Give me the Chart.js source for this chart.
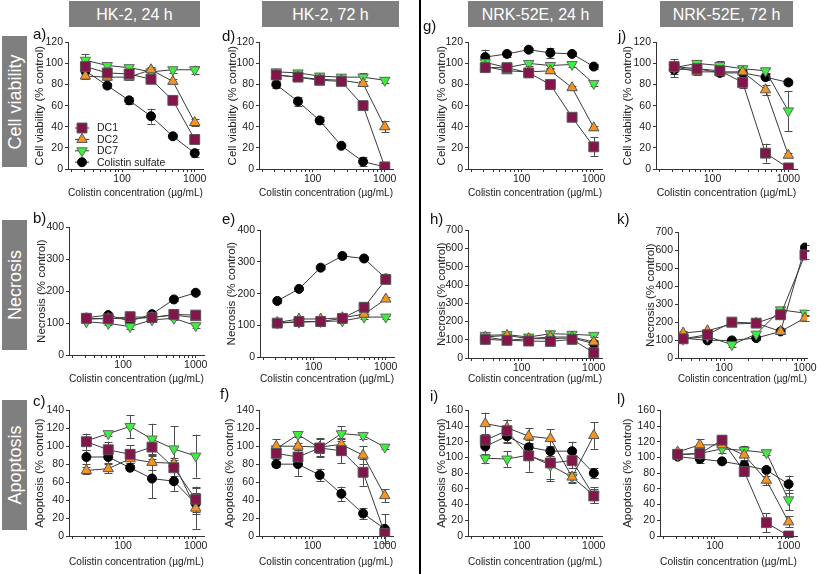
<!DOCTYPE html>
<html>
<head>
<meta charset="utf-8">
<script src="https://cdn.jsdelivr.net/npm/chart.js@4.4.0/dist/chart.umd.min.js"></script>
<style>
  html, body { margin: 0; padding: 0; background: #fff; }
  body { width: 817px; height: 574px; position: relative; overflow: hidden;
         font-family: Arial, "Liberation Sans", sans-serif; }
  .colhead { position: absolute; top: 1px; height: 26px; background: #7f7f7f; color: #fff;
             font-size: 16px; line-height: 27px; text-align: center; white-space: nowrap; }
  .rowhead { position: absolute; left: 2px; width: 25px; background: #7f7f7f; }
  .rowhead span { position: absolute; left: 50%; top: 50%; color: #fff; font-size: 18px;
                  white-space: nowrap; transform: translate(-50%, -50%) rotate(-90deg); }
  .letter { position: absolute; font-size: 15px; line-height: 15px; color: #111; }
  .divider { position: absolute; left: 419px; top: 0; width: 2px; height: 574px; background: #000; }
</style>
</head>
<body>
<div class="colhead" style="left:69px;width:131px">HK-2, 24 h</div>
<div class="colhead" style="left:262px;width:137px">HK-2, 72 h</div>
<div class="colhead" style="left:468px;width:135px">NRK-52E, 24 h</div>
<div class="colhead" style="left:660px;width:133px">NRK-52E, 72 h</div>
<div class="rowhead" style="top:36px;height:131px"><span>Cell viability</span></div>
<div class="rowhead" style="top:220px;height:130px"><span>Necrosis</span></div>
<div class="rowhead" style="top:400px;height:130px"><span>Apoptosis</span></div>
<div class="divider"></div>

<script>
// x values (µg/mL) and axis ticks
const concentrations = [31.25, 62.5, 125, 250, 500, 1000];
const seriesNames = ['DC1', 'DC2', 'DC7', 'Colistin sulfate'];
const xTickValues = [20, 30, 40, 50, 60, 70, 80, 90, 100, 200, 300, 400, 500, 600, 700, 800, 900, 1000];
const xLabelled = [100, 1000];

// each table: rows = DC1, DC2, DC7, Colistin sulfate ; columns = concentrations
// a) cell viability, HK-2 24 h
const viabHK24 = [[97, 91, 90, 85, 65, 28], [88, 87, 87, 94, 83, 44], [103, 98, 96, 92, 94, 94], [93, 79, 65, 50, 31, 15]];
const viabHK24Err = [[4, 3, 4, 2, 2, 2], [3, 3, 3, 3, 2, 3], [6, 2, 2, 2, 3, 4], [3, 2, 3, 7, 2, 4]];
// d) cell viability, HK-2 72 h
const viabHK72 = [[89, 87, 84, 83, 60, 2], [89, 87, 85, 84, 81, 40], [92, 91, 88, 87, 87, 84], [80, 64, 46, 22, 7, 2]];
const viabHK72Err = [[3, 3, 2, 2, 2, 1], [3, 2, 2, 2, 2, 5], [3, 2, 2, 2, 4, 3], [3, 4, 3, 1, 4, 1]];
// g) cell viability, NRK-52E 24 h
const viabNRK24 = [[96, 96, 91, 80, 49, 21], [97, 93, 92, 93, 77, 39], [101, 96, 100, 98, 99, 81], [106, 109, 113, 110, 109, 97]];
const viabNRK24Err = [[3, 3, 4, 2, 2, 9], [2, 2, 2, 2, 2, 2], [2, 2, 2, 2, 2, 2], [7, 3, 2, 5, 2, 2]];
// j) cell viability, NRK-52E 72 h
const viabNRK72 = [[97, 95, 93, 82, 15, 1], [97, 92, 92, 92, 75, 13], [96, 100, 98, 95, 93, 55], [94, 95, 91, 91, 87, 82]];
const viabNRK72Err = [[7, 4, 3, 5, 9, 1], [4, 3, 3, 3, 5, 2], [4, 3, 4, 3, 2, 19], [7, 5, 3, 3, 3, 2]];

// b) necrosis, HK-2 24 h
const necHK24 = [[115, 113, 120, 117, 127, 125], [112, 115, 113, 118, 125, 117], [104, 99, 89, 110, 115, 92], [117, 125, 106, 128, 174, 195]];
const necHK24Err = [[5, 5, 6, 5, 6, 6], [5, 5, 5, 5, 5, 5], [5, 5, 6, 5, 5, 6], [5, 5, 5, 6, 5, 5]];
// e) necrosis, HK-2 72 h
const necHK72 = [[107, 112, 112, 122, 157, 245], [109, 120, 120, 124, 135, 183], [107, 110, 112, 114, 126, 126], [177, 215, 282, 319, 311, 248]];
const necHK72Err = [[5, 6, 5, 6, 6, 6], [5, 6, 6, 6, 6, 6], [5, 5, 5, 6, 5, 5], [5, 5, 5, 5, 5, 6]];
// h) necrosis, NRK-52E 24 h
const necNRK24 = [[102, 97, 93, 91, 102, 29], [115, 124, 106, 115, 115, 88], [124, 128, 115, 133, 130, 124], [115, 97, 106, 106, 110, 79]];
const necNRK24Err = [[12, 10, 10, 12, 12, 10], [10, 10, 10, 10, 10, 12], [10, 10, 10, 10, 10, 10], [12, 10, 10, 12, 10, 15]];
// k) necrosis, NRK-52E 72 h
const necNRK72 = [[107, 130, 200, 194, 241, 574], [139, 152, 189, 194, 148, 222], [105, 120, 74, 133, 268, 250], [111, 98, 98, 111, 148, 615]];
const necNRK72Err = [[12, 15, 15, 12, 15, 20], [10, 12, 12, 12, 12, 15], [10, 12, 12, 15, 15, 15], [10, 10, 10, 10, 12, 15]];

// c) apoptosis, HK-2 24 h
const apoHK24 = [[105, 96, 91, 99, 76, 41], [73, 75, 86, 82, 81, 31], [106, 114, 122, 108, 97, 89], [88, 88, 76, 64, 61, 36]];
const apoHK24Err = [[9, 9, 10, 10, 9, 14], [4, 5, 5, 8, 6, 23], [4, 3, 13, 17, 25, 24], [8, 7, 3, 22, 11, 12]];
// f) apoptosis, HK-2 72 h
const apoHK72 = [[92, 88, 98, 95, 71, 3], [100, 100, 99, 102, 90, 45], [97, 113, 98, 114, 112, 99], [80, 80, 68, 47, 25, 8]];
const apoHK72Err = [[6, 8, 10, 14, 15, 3], [8, 4, 10, 6, 10, 7], [3, 3, 6, 8, 4, 2], [3, 13, 7, 8, 6, 16]];
// i) apoptosis, NRK-52E 24 h
const apoNRK24 = [[122, 134, 102, 93, 96, 51], [143, 138, 127, 124, 75, 128], [99, 98, 103, 90, 75, 52], [114, 127, 113, 108, 108, 80]];
const apoNRK24Err = [[8, 14, 20, 20, 10, 9], [14, 10, 10, 12, 6, 17], [6, 10, 5, 20, 7, 10], [15, 8, 6, 6, 12, 6]];
// l) apoptosis, NRK-52E 72 h
const apoNRK72 = [[104, 105, 122, 82, 17, 0], [107, 116, 116, 103, 71, 18], [103, 105, 111, 109, 106, 46], [101, 98, 95, 90, 84, 66]];
const apoNRK72Err = [[4, 8, 6, 6, 12, 1], [4, 7, 4, 6, 6, 7], [3, 4, 5, 6, 3, 13], [3, 5, 2, 5, 3, 11]];

const seriesStyles = [
  { pointStyle: 'rect', radius: 7, rotation: 0, fill: '#82164a', border: '#555' },
  { pointStyle: 'triangle', radius: 6, rotation: 0, fill: '#f7931e', border: '#555' },
  { pointStyle: 'triangle', radius: 6, rotation: 180, fill: '#3cf03c', border: '#666' },
  { pointStyle: 'circle', radius: 4.5, rotation: 0, fill: '#000', border: '#000' }
];

const FONT = 'Arial, "Liberation Sans", sans-serif';
Chart.defaults.font.family = FONT;
Chart.defaults.color = '#1a1a1a';

const TITLE_VIAB = 'Cell viability (% control)';
const TITLE_NEC = 'Necrosis (% control)';
const TITLE_APO = 'Apoptosis (% control)';
const X_TITLE = 'Colistin concentration (µg/mL)';

// layout of each panel (page pixels): plot box l/r/t/b, y-title centre ty, x-title centre xt
const panels = [
  { letter: 'a)', lx: 33, ly: 26, vals: viabHK24, errs: viabHK24Err, yMax: 120, step: 20, yTitle: TITLE_VIAB, l: 68, r: 203, t: 42, b: 169, ty: 40, xt: 193, legend: true },
  { letter: 'd)', lx: 222, ly: 28, vals: viabHK72, errs: viabHK72Err, yMax: 120, step: 20, yTitle: TITLE_VIAB, l: 259, r: 393, t: 42, b: 169, ty: 233, xt: 193 },
  { letter: 'g)', lx: 423, ly: 18, vals: viabNRK24, errs: viabNRK24Err, yMax: 120, step: 20, yTitle: TITLE_VIAB, l: 468, r: 602, t: 42, b: 169, ty: 442, xt: 193 },
  { letter: 'j)', lx: 618, ly: 28, vals: viabNRK72, errs: viabNRK72Err, yMax: 120, step: 20, yTitle: TITLE_VIAB, l: 656, r: 797, t: 42, b: 169, ty: 628, xt: 193 },
  { letter: 'b)', lx: 33, ly: 210, vals: necHK24, errs: necHK24Err, yMax: 400, step: 100, yTitle: TITLE_NEC, l: 69, r: 204, t: 227, b: 355, ty: 42, xt: 379 },
  { letter: 'e)', lx: 222, ly: 211, vals: necHK72, errs: necHK72Err, yMax: 400, step: 100, yTitle: TITLE_NEC, l: 260, r: 394, t: 230, b: 357, ty: 232, xt: 379 },
  { letter: 'h)', lx: 430, ly: 211, vals: necNRK24, errs: necNRK24Err, yMax: 700, step: 100, yTitle: TITLE_NEC, l: 468, r: 602, t: 230, b: 358, ty: 442, xt: 379 },
  { letter: 'k)', lx: 617, ly: 211, vals: necNRK72, errs: necNRK72Err, yMax: 700, step: 100, yTitle: TITLE_NEC, l: 678, r: 807, t: 232, b: 358, ty: 651, xt: 379, xMin: 27, xMax: 1060 },
  { letter: 'c)', lx: 33, ly: 393, vals: apoHK24, errs: apoHK24Err, yMax: 140, step: 20, yTitle: TITLE_APO, l: 69, r: 204, t: 410, b: 536, ty: 40, xt: 562 },
  { letter: 'f)', lx: 220, ly: 386, vals: apoHK72, errs: apoHK72Err, yMax: 140, step: 20, yTitle: TITLE_APO, l: 259, r: 393, t: 410, b: 536, ty: 230, xt: 562 },
  { letter: 'i)', lx: 430, ly: 388, vals: apoNRK24, errs: apoNRK24Err, yMax: 160, step: 20, yTitle: TITLE_APO, l: 468, r: 602, t: 410, b: 536, ty: 442, xt: 562 },
  { letter: 'l)', lx: 617, ly: 391, vals: apoNRK72, errs: apoNRK72Err, yMax: 160, step: 20, yTitle: TITLE_APO, l: 660, r: 797, t: 410, b: 536, ty: 628, xt: 562 }
];

// vertical SD bars with caps, drawn under the markers
const errorBars = {
  id: 'errorBars',
  beforeDatasetsDraw(chart) {
    const ctx = chart.ctx;
    const ys = chart.scales.y;
    ctx.save();
    ctx.strokeStyle = '#4d4d4d';
    ctx.lineWidth = 1;
    chart.data.datasets.forEach((ds, i) => {
      chart.getDatasetMeta(i).data.forEach((pt, j) => {
        const e = ds.errors[j];
        if (!e) return;
        const v = ds.data[j].y;
        const x = Math.round(pt.x) + 0.5;
        const y1 = ys.getPixelForValue(v + e);
        const y2 = ys.getPixelForValue(v - e);
        ctx.beginPath();
        ctx.moveTo(x, y1); ctx.lineTo(x, y2);
        ctx.moveTo(x - 4, Math.round(y1) + 0.5); ctx.lineTo(x + 4, Math.round(y1) + 0.5);
        ctx.moveTo(x - 4, Math.round(y2) + 0.5); ctx.lineTo(x + 4, Math.round(y2) + 0.5);
        ctx.stroke();
      });
    });
    ctx.restore();
  }
};

// legend drawn inside the plot of panel a
const insideLegend = {
  id: 'insideLegend',
  afterDraw(chart, args, opts) {
    if (!opts.show) return;
    const { left, bottom } = chart.chartArea;
    const ctx = chart.ctx;
    ctx.save();
    seriesNames.forEach((name, i) => {
      const st = seriesStyles[i];
      const y = bottom - 41 + i * 11.4;
      const mx = left + 14;
      ctx.strokeStyle = '#333';
      ctx.lineWidth = 1;
      ctx.beginPath();
      ctx.moveTo(left + 7, y); ctx.lineTo(left + 21, y);
      ctx.stroke();
      ctx.fillStyle = st.fill;
      ctx.strokeStyle = st.border;
      Chart.helpers.drawPoint(ctx, { pointStyle: st.pointStyle, radius: st.radius, rotation: st.rotation, borderWidth: 1 }, mx, y);
      ctx.fillStyle = '#1a1a1a';
      ctx.font = '10.5px ' + FONT;
      ctx.textBaseline = 'middle';
      ctx.fillText(name, left + 29, y + 0.5);
    });
    ctx.restore();
  }
};

function buildPanel(p) {
  const yTitleSize = 11.5, xFont = 10.5;
  const left = Math.round(p.ty - yTitleSize * 0.6);
  const top = p.t - 8;
  const W = p.r + 14 - left;
  const H = Math.round(p.xt + xFont * 0.6 - top);
  const yw = p.l - left;
  const xh = H - (p.b - top);

  const canvas = document.createElement('canvas');
  canvas.width = W; canvas.height = H;
  canvas.style.cssText = `position:absolute;left:${left}px;top:${top}px;width:${W}px;height:${H}px`;
  document.body.appendChild(canvas);

  const lab = document.createElement('div');
  lab.className = 'letter';
  lab.style.left = p.lx + 'px';
  lab.style.top = p.ly + 'px';
  lab.textContent = p.letter;
  document.body.appendChild(lab);

  const datasets = seriesNames.map((name, i) => {
    const st = seriesStyles[i];
    return {
      label: name,
      data: concentrations.map((c, j) => ({ x: c, y: p.vals[i][j] })),
      errors: p.errs[i],
      borderColor: '#3a3a3a',
      borderWidth: 1,
      pointStyle: st.pointStyle,
      pointRadius: st.radius,
      pointRotation: st.rotation,
      pointBackgroundColor: st.fill,
      pointBorderColor: st.border,
      pointBorderWidth: 1,
      tension: 0
    };
  });

  new Chart(canvas.getContext('2d'), {
    type: 'line',
    data: { datasets },
    plugins: [errorBars, insideLegend],
    options: {
      responsive: false,
      animation: false,
      layout: { padding: { top: 8, right: 14, left: 0, bottom: 0 } },
      plugins: {
        legend: { display: false },
        tooltip: { enabled: false },
        insideLegend: { show: !!p.legend }
      },
      scales: {
        x: {
          type: 'logarithmic',
          min: p.xMin || 18,
          max: p.xMax || 1300,
          afterBuildTicks: s => { s.ticks = xTickValues.filter(v => v >= s.min).map(v => ({ value: v })); },
          afterFit: s => { s.height = xh; },
          ticks: {
            autoSkip: false, maxRotation: 0, padding: 1, color: '#1a1a1a',
            font: { size: xFont },
            callback: v => xLabelled.includes(v) ? String(v) : ''
          },
          grid: { drawOnChartArea: false, drawTicks: true, tickLength: 3, color: '#333' },
          border: { color: '#333', width: 1 },
          title: { display: true, text: X_TITLE, color: '#1a1a1a', font: { size: xFont }, padding: 0 }
        },
        y: {
          min: 0,
          max: p.yMax,
          afterFit: s => { s.width = yw; },
          ticks: { stepSize: p.step, padding: 2, color: '#1a1a1a', font: { size: 10.5 } },
          grid: { drawOnChartArea: false, drawTicks: true, tickLength: 3, color: '#333' },
          border: { color: '#333', width: 1 },
          title: { display: true, text: p.yTitle, color: '#222', font: { size: yTitleSize }, padding: 0 }
        }
      }
    }
  });
}

panels.forEach(buildPanel);
</script>
</body>
</html>
